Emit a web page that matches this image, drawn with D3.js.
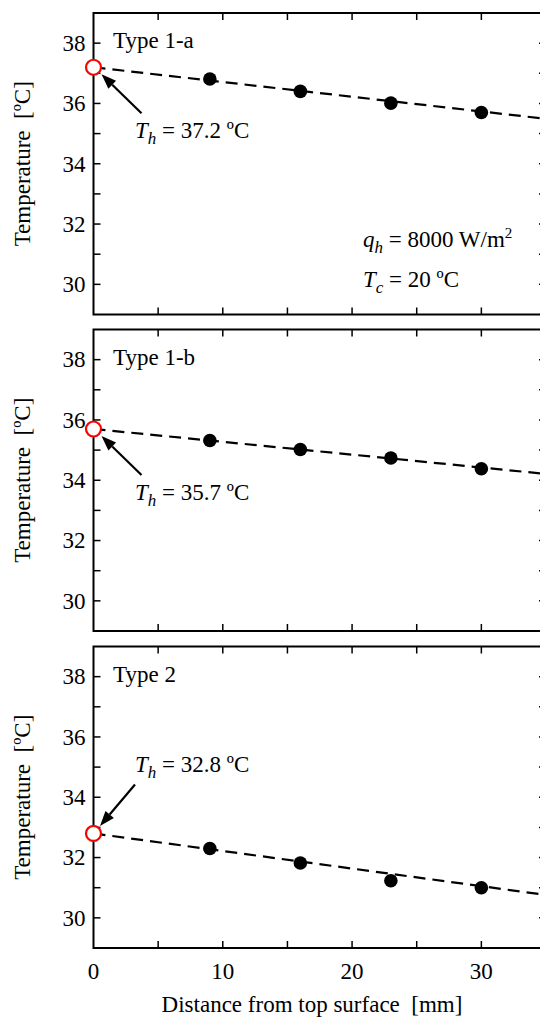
<!DOCTYPE html>
<html>
<head>
<meta charset="utf-8">
<script src="https://cdn.jsdelivr.net/npm/d3@7"></script>
<style>
  body { margin: 0; background: #fff; }
  svg { display: block; }
  svg text { fill: #000; white-space: pre; }
</style>
</head>
<body>
<svg width="540" height="1017"></svg>
<script>
// data
var panelNames = ['Type 1-a', 'Type 1-b', 'Type 2'];
var depth = [9, 16, 23, 30];
var tempA = [36.81, 36.40, 36.01, 35.70];
var tempB = [35.32, 35.02, 34.74, 34.38];
var temp2 = [32.30, 31.82, 31.23, 31.00];
var series = [tempA, tempB, temp2];
var surfaceT = [37.2, 35.7, 32.8];     // T_h, extrapolated to x = 0
var fitEnd = [35.49, 34.21, 30.76];    // fitted line value at x = 35
var xTicks = [0, 10, 20, 30];
var yTicks = [30, 32, 34, 36, 38];

var svg = d3.select('svg').style('font-family', "'Liberation Serif', 'Times New Roman', serif");
var left = 93.5, right = 546;
var panelTop = [13, 329.5, 646.5];
var panelH = 301.5;
var fs = 23;

var x = d3.scaleLinear().domain([0, 35]).range([left, right]);

function arrow(g, x1, y1, x2, y2) {
  var ang = Math.atan2(y2 - y1, x2 - x1);
  var len = 15, w = 5.5;
  var bx = x2 - len * Math.cos(ang), by = y2 - len * Math.sin(ang);
  g.append('line')
    .attr('x1', x1).attr('y1', y1).attr('x2', bx).attr('y2', by)
    .attr('stroke', '#000').attr('stroke-width', 2.2);
  g.append('polygon')
    .attr('points', [
      [x2, y2],
      [bx + w * Math.sin(ang), by - w * Math.cos(ang)],
      [bx - w * Math.sin(ang), by + w * Math.cos(ang)]
    ].map(function (p) { return p.join(','); }).join(' '))
    .attr('fill', '#000');
}

function thLabel(g, tx, ty, val) {
  var t = g.append('text').attr('x', tx).attr('y', ty).style('font-size', fs + 'px');
  t.append('tspan').style('font-style', 'italic').text('T');
  t.append('tspan').style('font-style', 'italic').attr('dy', 6).style('font-size', '17px').text('h');
  t.append('tspan').attr('dy', -6).text(' = ' + val.toFixed(1) + ' ºC');
}

panelNames.forEach(function (name, i) {
  var top = panelTop[i];
  var y = d3.scaleLinear().domain([29, 39]).range([top + panelH, top]);
  var g = svg.append('g');

  // inward ticks on all four sides
  var tickG = g.append('g').attr('stroke', '#000').attr('stroke-width', 1.5);
  d3.range(5, 35, 5).forEach(function (v) {
    tickG.append('line').attr('x1', x(v)).attr('x2', x(v))
      .attr('y1', top + panelH).attr('y2', top + panelH - 7);
    tickG.append('line').attr('x1', x(v)).attr('x2', x(v))
      .attr('y1', top).attr('y2', top + 7);
  });
  d3.range(30, 39, 1).forEach(function (v) {
    tickG.append('line').attr('y1', y(v)).attr('y2', y(v))
      .attr('x1', left).attr('x2', left + 7);
    tickG.append('line').attr('y1', y(v)).attr('y2', y(v))
      .attr('x1', right).attr('x2', right - 7);
  });

  // frame
  g.append('rect')
    .attr('x', left).attr('y', top)
    .attr('width', right - left).attr('height', panelH)
    .attr('fill', 'none').attr('stroke', '#000').attr('stroke-width', 2);

  // y tick labels
  g.selectAll('.yl').data(yTicks).enter().append('text')
    .attr('x', left - 8).attr('y', function (d) { return y(d); })
    .attr('dy', '0.34em')
    .attr('text-anchor', 'end')
    .style('font-size', fs + 'px')
    .text(function (d) { return d; });

  // y title
  g.append('text')
    .attr('transform', 'translate(30,' + (top + panelH / 2) + ') rotate(-90)')
    .attr('text-anchor', 'middle')
    .style('font-size', fs + 'px')
    .text('Temperature  [ºC]');

  // panel name
  g.append('text')
    .attr('x', 113).attr('y', top + 35)
    .style('font-size', fs + 'px')
    .text(name);

  // fitted dashed line
  g.append('line')
    .attr('x1', x(0)).attr('y1', y(surfaceT[i]))
    .attr('x2', x(35)).attr('y2', y(fitEnd[i]))
    .attr('stroke', '#000').attr('stroke-width', 2.2)
    .attr('stroke-dasharray', '12,7');

  // measured points
  g.selectAll('.pt').data(series[i]).enter().append('circle')
    .attr('cx', function (d, j) { return x(depth[j]); })
    .attr('cy', function (d) { return y(d); })
    .attr('r', 6.8)
    .attr('fill', '#000');

  // surface temperature
  var sx = x(0), sy = y(surfaceT[i]);
  if (i < 2) {
    arrow(g, sx + 48, sy + 46, sx + 8, sy + 7);
    thLabel(g, sx + 41.5, sy + 71, surfaceT[i]);
  } else {
    arrow(g, sx + 41.5, sy - 49, sx + 6.5, sy - 7.5);
    thLabel(g, sx + 41.5, sy - 61, surfaceT[i]);
  }
  g.append('circle')
    .attr('cx', sx).attr('cy', sy).attr('r', 7.5)
    .attr('fill', '#fff').attr('stroke', '#f00').attr('stroke-width', 2.2);

  if (i === 0) {
    var q = g.append('text').attr('x', 363).attr('y', 247).style('font-size', fs + 'px');
    q.append('tspan').style('font-style', 'italic').text('q');
    q.append('tspan').style('font-style', 'italic').attr('dy', 6).style('font-size', '17px').text('h');
    q.append('tspan').attr('dy', -6).text(' = 8000 W/m');
    q.append('tspan').attr('dy', -9).style('font-size', '15px').text('2');
    var tc = g.append('text').attr('x', 363).attr('y', 287).style('font-size', fs + 'px');
    tc.append('tspan').style('font-style', 'italic').text('T');
    tc.append('tspan').style('font-style', 'italic').attr('dy', 6).style('font-size', '17px').text('c');
    tc.append('tspan').attr('dy', -6).text(' = 20 ºC');
  }

  if (i === 2) {
    g.selectAll('.xl').data(xTicks).enter().append('text')
      .attr('x', function (d) { return x(d); })
      .attr('y', top + panelH + 31)
      .attr('text-anchor', 'middle')
      .style('font-size', fs + 'px')
      .text(function (d) { return d; });
    g.append('text')
      .attr('x', 312).attr('y', 1012)
      .attr('text-anchor', 'middle')
      .style('font-size', fs + 'px')
      .text('Distance from top surface  [mm]');
  }
});
</script>
</body>
</html>
